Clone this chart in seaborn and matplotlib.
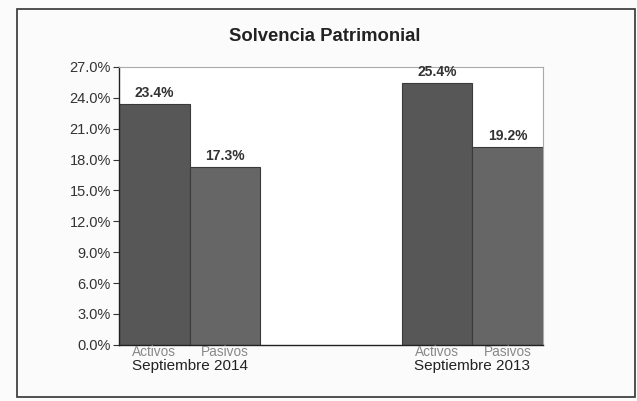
import matplotlib
matplotlib.use("Agg")
import matplotlib.pyplot as plt
import seaborn as sns
import pandas as pd
from matplotlib.patches import Rectangle

periods = ["Septiembre 2014", "Septiembre 2013"]
series = ["Activos", "Pasivos"]
activos = [23.4, 25.4]
pasivos = [17.3, 19.2]
yticks = [0, 3, 6, 9, 12, 15, 18, 21, 24, 27]

pos = [0, 1, 4, 5]
vals = [activos[0], pasivos[0], activos[1], pasivos[1]]
ser = [series[0], series[1], series[0], series[1]]
df = pd.DataFrame({"pos": pos, "value": vals, "series": ser})

sns.set_theme(style="white")
plt.rcParams["font.family"] = ["Liberation Sans", "DejaVu Sans"]

fig = plt.figure(figsize=(6.37, 4.01), dpi=100, facecolor="#fbfbfb")
ax = fig.add_axes([0.187, 0.140, 0.665, 0.693])
ax.set_facecolor("white")

sns.barplot(data=df, x="pos", y="value", hue="series",
            palette={"Activos": "#575757", "Pasivos": "#666666"},
            native_scale=True, dodge=False, width=1.0,
            edgecolor="#3a3a3a", linewidth=0.8, legend=False, ax=ax)

ax.set_xlim(-0.5, 5.5)
ax.set_ylim(0, 27)
ax.set_yticks(yticks)
ax.set_yticklabels([f"{v:.1f}%" for v in yticks], fontsize=10.5, color="#333333")
ax.set_xticks([])
ax.set_xlabel("")
ax.set_ylabel("")
ax.tick_params(axis="y", direction="out", length=4, width=0.8, color="#333333", pad=2, left=True)

for s in ["left", "bottom"]:
    ax.spines[s].set_color("#222222")
    ax.spines[s].set_linewidth(1.0)
for s in ["top", "right"]:
    ax.spines[s].set_color("#aaaaaa")
    ax.spines[s].set_linewidth(0.8)

for p, v in zip(pos, vals):
    ax.annotate(f"{v:.1f}%", (p, v), xytext=(0, 3), textcoords="offset points",
                ha="center", va="bottom", fontsize=10, fontweight="bold", color="#333333")

trans = ax.get_xaxis_transform()
for p, s in zip(pos, ser):
    ax.text(p, 0.0, s, transform=trans, ha="center", va="top", fontsize=9.8, color="#888888")
for i, per in enumerate(periods):
    ax.text(pos[2 * i] + 0.5, -0.05, per, transform=trans, ha="center", va="top",
            fontsize=11, color="#222222")

fig.text(0.51, 0.908, "Solvencia Patrimonial", ha="center", va="center",
         fontsize=13.3, fontweight="bold", color="#222222")

fig.patches.append(Rectangle((17 / 637, 4 / 401), (635 - 17) / 637, (392 - 4) / 401,
                             transform=fig.transFigure, fill=False,
                             edgecolor="#333333", linewidth=1.2))

fig.savefig("out.png", dpi=100, facecolor=fig.get_facecolor())
